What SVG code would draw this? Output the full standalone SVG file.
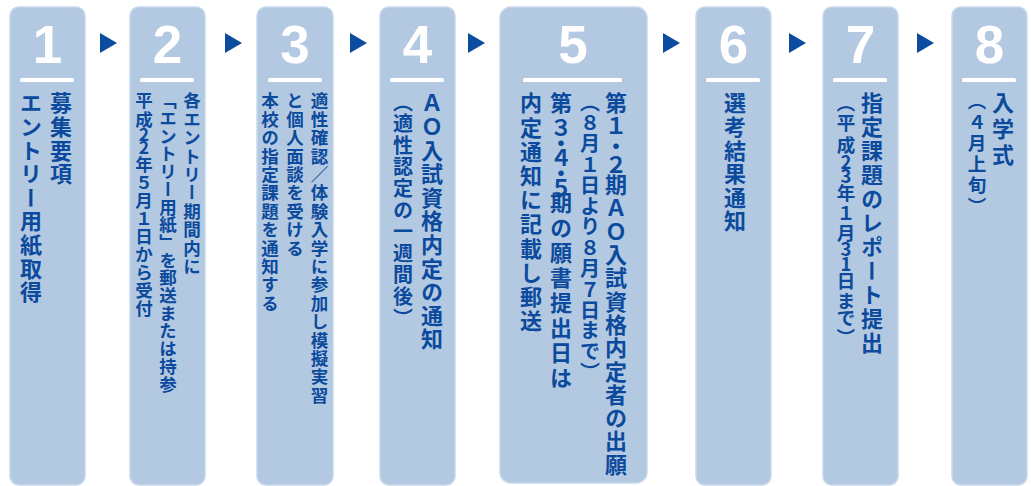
<svg xmlns="http://www.w3.org/2000/svg" width="1031" height="486" viewBox="0 0 1031 486">
<style>
.box{fill:#b3c9e1;stroke:#c6d7eb;stroke-width:1.5}
.num{font-family:"Liberation Sans",Arial,sans-serif;font-weight:bold;font-size:53px;fill:#ffffff;text-anchor:middle}
.bar{fill:#ffffff}
.v{font-family:"Noto Sans CJK JP","Noto Sans CJK SC",sans-serif;font-weight:bold;fill:#0b4a9d;writing-mode:vertical-rl;text-orientation:upright}
.h{font-family:"Noto Sans CJK JP","Noto Sans CJK SC",sans-serif;font-weight:bold;fill:#0b4a9d;text-anchor:middle}
.L{font-size:22px;letter-spacing:1.6px}
.M{font-size:20px;letter-spacing:1px}
.S{font-size:17.5px;letter-spacing:0.9px}
.arrow{fill:#0a4c9e}
</style>
<rect width="1031" height="486" fill="#ffffff"/>
<g id="connectors">
<polygon class="arrow" points="100,33 117,43 100,53"/>
<polygon class="arrow" points="225,33 242,43 225,53"/>
<polygon class="arrow" points="350,33 367,43 350,53"/>
<polygon class="arrow" points="468,33 485,43 468,53"/>
<polygon class="arrow" points="663,33 680,43 663,53"/>
<polygon class="arrow" points="789,33 806,43 789,53"/>
<polygon class="arrow" points="917,33 934,43 917,53"/>
</g>
<g id="step1">
<rect class="box" x="10" y="7" width="75" height="478" rx="9"/>
<text class="num" x="47.5" y="63">1</text>
<rect class="bar" x="20" y="78" width="54" height="4" rx="1.5"/>
<text class="v L" x="61" y="92">募集要項</text>
<text class="v L" x="31" y="92">エントリー用紙取得</text>
</g>
<g id="step2">
<rect class="box" x="130" y="7" width="75" height="478" rx="9"/>
<text class="num" x="167.5" y="63">2</text>
<rect class="bar" x="140" y="78" width="54" height="4" rx="1.5"/>
<text class="v S" x="192" y="92">各エントリー期間内に</text>
<text class="v S" x="168" y="92" style="letter-spacing:0.2px">「エントリー用紙」を郵送または持参</text>
<text class="h" style="font-size:17.5px" x="144 144 144 144 144 144 144 144 144 144 144 144 144" y="107.4 125.7 141 154 170.5 188.5 206.5 224.5 242.5 260.5 278.5 296.5 314.5">平成22年５月１日から受付</text>
</g>
<g id="step3">
<rect class="box" x="257" y="7" width="76" height="478" rx="9"/>
<text class="num" x="295" y="63">3</text>
<rect class="bar" x="268" y="78" width="54" height="4" rx="1.5"/>
<text class="v S" x="319.5" y="92">適性確認／体験入学に参加し模擬実習</text>
<text class="v S" x="295" y="92">と個人面談を受ける</text>
<text class="v S" x="270" y="92">本校の指定課題を通知する</text>
</g>
<g id="step4">
<rect class="box" x="380" y="7" width="75" height="478" rx="9"/>
<text class="num" x="417.5" y="63">4</text>
<rect class="bar" x="390" y="78" width="54" height="4" rx="1.5"/>
<text class="v L" x="432" y="92">ＡＯ入試資格内定の通知</text>
<text class="v M" x="403" y="92" style="letter-spacing:1.6px">（適性認定の一週間後）</text>
</g>
<g id="step5">
<rect class="box" x="500" y="7" width="147" height="476" rx="11"/>
<text class="num" x="573" y="63">5</text>
<rect class="bar" x="523" y="78" width="99" height="4" rx="1.5"/>
<text class="v L" x="616" y="92" style="letter-spacing:1.3px">第<tspan style="letter-spacing:-2.5px">１・２</tspan>期ＡＯ入試資格内定者の出願</text>
<text class="v M" x="590" y="92" style="letter-spacing:0.8px">（８月１日より８月７日まで）</text>
<text class="v L" x="561" y="92" style="letter-spacing:3px">第<tspan style="letter-spacing:-7px">３・４・５</tspan>期の願書提出日は</text>
<text class="v L" x="531" y="92" style="letter-spacing:2.2px">内定通知に記載し郵送</text>
</g>
<g id="step6">
<rect class="box" x="696" y="7" width="75" height="478" rx="9"/>
<text class="num" x="733.5" y="63">6</text>
<rect class="bar" x="706" y="78" width="54" height="4" rx="1.5"/>
<text class="v L" x="735" y="92">選考結果通知</text>
</g>
<g id="step7">
<rect class="box" x="823" y="7" width="75" height="478" rx="9"/>
<text class="num" x="860.5" y="63">7</text>
<rect class="bar" x="833" y="78" width="54" height="4" rx="1.5"/>
<text class="v L" x="872" y="92" style="letter-spacing:2px">指定課題のレポート提出</text>
<text class="h" style="font-size:18.5px" x="848.5 846 846 846 846 846 846 846 846 846 846 846 846 848.5" y="94 130.3 152.3 168.5 183 199.8 220.3 240.3 256.1 270.6 288 307.8 325 328" rotate="90 0 0 0 0 0 0 0 0 0 0 0 0 90">（平成23年１月31日まで）</text>
</g>
<g id="step8">
<rect class="box" x="952" y="7" width="75" height="478" rx="9"/>
<text class="num" x="989.5" y="63">8</text>
<rect class="bar" x="962" y="78" width="54" height="4" rx="1.5"/>
<text class="v L" x="1003" y="92" style="letter-spacing:4px">入学式</text>
<text class="v M" x="977" y="92" style="font-size:18.5px;letter-spacing:2.5px">（４月上旬）</text>
</g>
</svg>
